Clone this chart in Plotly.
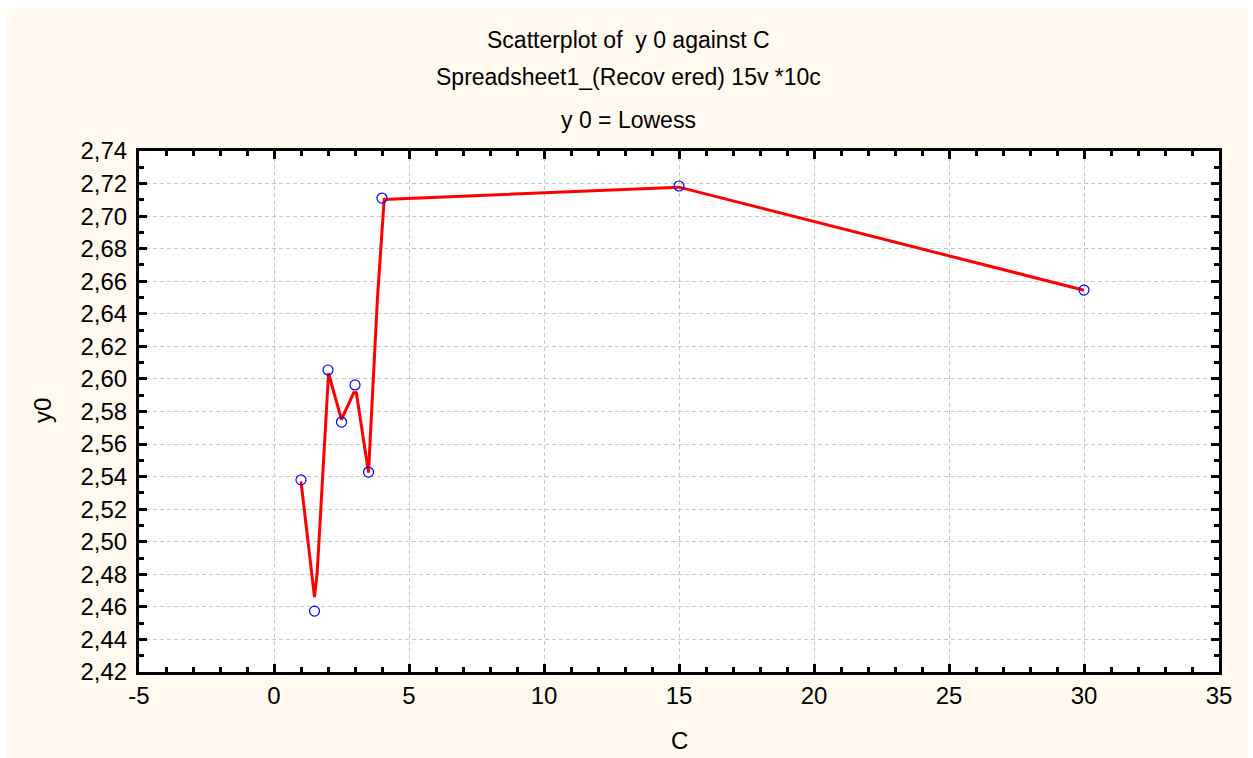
import plotly.graph_objects as go

# Data
C_values = [1, 1.5, 2, 2.5, 3, 3.5, 4, 15, 30]
y0_values = [2.538, 2.4574, 2.6055, 2.5735, 2.5963, 2.5428, 2.7111, 2.7185, 2.6546]

# Lowess curve vertices
lowess_x = [1, 1.5, 1.6, 2.02, 2.5, 2.95, 3.05, 3.5, 3.83, 4.08, 15, 30]
lowess_y = [2.537, 2.466, 2.481, 2.6035, 2.575, 2.5915, 2.5915, 2.5425, 2.649, 2.7102, 2.7178, 2.6545]

x_tickvals = [-5, 0, 5, 10, 15, 20, 25, 30, 35]
x_ticktext = ["-5", "0", "5", "10", "15", "20", "25", "30", "35"]

title_lines = ["Scatterplot of  y 0 against C",
               "Spreadsheet1_(Recov ered) 15v *10c",
               "y 0 = Lowess"]
x_label = "C"
y_label = "y0"

# layout geometry (pixels)
W, H = 1253, 758
L, R, T, B = 139, 1219, 151, 672
pw, ph = R - L, B - T

def px_x(p):
    return (p - L) / pw

def px_y(p):
    return (B - p) / ph

FONT = "Arial, Liberation Sans, sans-serif"
CREAM = "#FFF9EF"

fig = go.Figure()

fig.add_trace(go.Scatter(
    x=lowess_x, y=lowess_y, mode="lines",
    line=dict(color="#FF0000", width=3),
    showlegend=False, hoverinfo="skip"))

fig.add_trace(go.Scatter(
    x=C_values, y=y0_values, mode="markers",
    marker=dict(symbol="circle-open", size=10, color="#0000FF", line=dict(width=1.2, color="#0000FF")),
    showlegend=False))

axis_common = dict(
    showline=True, linecolor="black", linewidth=3, mirror="ticks",
    ticks="inside", ticklen=8, tickwidth=3, tickcolor="black",
    showgrid=True, gridcolor="#C8C8C8", griddash="4px,3px", gridwidth=1,
    zeroline=False,
    tickfont=dict(family=FONT, size=24, color="black"),
)

fig.update_xaxes(range=[-5, 35], tickmode="array", tickvals=x_tickvals, ticktext=x_ticktext,
                 minor=dict(dtick=1, tick0=0, ticks="inside", ticklen=5, tickwidth=3, tickcolor="black", showgrid=False),
                 ticklabelstandoff=0,
                 **axis_common)
fig.update_yaxes(range=[2.42, 2.74], tick0=2.42, dtick=0.02, tickformat=".2f",
                 minor=dict(dtick=0.01, ticks="inside", ticklen=5, tickwidth=3, tickcolor="black", showgrid=False),
                 ticklabelstandoff=4,
                 **axis_common)

shapes = [
    dict(type="rect", xref="paper", yref="paper", layer="below",
         x0=px_x(7), x1=px_x(1248), y0=px_y(758), y1=px_y(8),
         fillcolor=CREAM, line=dict(width=0)),
    dict(type="rect", xref="paper", yref="paper", layer="below",
         x0=0, x1=1, y0=0, y1=1, fillcolor="white", line=dict(width=0)),
]

annotations = []
for text, py in zip(title_lines, [40, 77, 120]):
    annotations.append(dict(text=text, xref="paper", yref="paper",
                            x=px_x(628), y=px_y(py), xanchor="center", yanchor="middle",
                            showarrow=False, font=dict(family=FONT, size=23, color="black")))
annotations.append(dict(text=x_label, xref="paper", yref="paper", x=px_x(679), y=px_y(740),
                        xanchor="center", yanchor="middle", showarrow=False,
                        font=dict(family=FONT, size=24, color="black")))
annotations.append(dict(text=y_label, xref="paper", yref="paper", x=px_x(42), y=px_y(411),
                        xanchor="center", yanchor="middle", showarrow=False, textangle=-90,
                        font=dict(family=FONT, size=24, color="black")))

fig.update_layout(
    width=W, height=H,
    margin=dict(l=L, r=W - R, t=T, b=H - B),
    paper_bgcolor="white", plot_bgcolor="white",
    separators=",.",
    shapes=shapes, annotations=annotations,
    font=dict(family=FONT, color="black"),
)

fig.write_html("out.html")
